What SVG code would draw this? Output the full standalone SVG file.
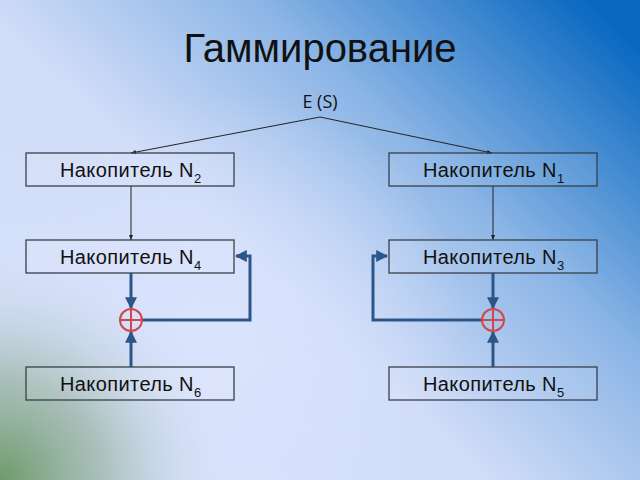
<svg xmlns="http://www.w3.org/2000/svg" width="640" height="480" viewBox="0 0 640 480">
<defs>
<linearGradient id="bg" x1="0" y1="0.9" x2="1" y2="0.1">
<stop offset="0" stop-color="#d8e2fb"/>
<stop offset="0.42" stop-color="#d0dcf8"/>
<stop offset="0.68" stop-color="#8db6e6"/>
<stop offset="1" stop-color="#0868c0"/>
</linearGradient>
<radialGradient id="green" cx="0" cy="480" r="230" gradientUnits="userSpaceOnUse">
<stop offset="0" stop-color="#6f9a6a"/>
<stop offset="0.45" stop-color="#9fb8ac" stop-opacity="0.8"/>
<stop offset="1" stop-color="#d6e0fa" stop-opacity="0"/>
</radialGradient>
<radialGradient id="light" cx="220" cy="340" r="250" gradientUnits="userSpaceOnUse">
<stop offset="0" stop-color="#dbe4fd" stop-opacity="0.9"/>
<stop offset="1" stop-color="#dbe4fd" stop-opacity="0"/>
</radialGradient>
<marker id="thin" viewBox="0 0 10 10" refX="10" refY="5" markerWidth="5" markerHeight="5" orient="auto">
<path d="M0,1 L10,5 L0,9 z" fill="#222"/>
</marker>
<marker id="thick" viewBox="0 0 10 10" refX="9" refY="5" markerWidth="4" markerHeight="4" orient="auto">
<path d="M0,0 L10,5 L0,10 z" fill="#2c5687"/>
</marker>
<style>
.box{fill:#ffffff;fill-opacity:0.08;stroke:#3a3f48;stroke-width:1.3}
.lbl{font-family:"Liberation Sans",Arial,sans-serif;font-size:20px;letter-spacing:0.4px;fill:#111}
.sub{font-size:13px;letter-spacing:0}
.thin{stroke:#222;stroke-width:1;fill:none}
.thk{stroke:#2c5687;stroke-width:3;fill:none}
.xor{stroke:#d04848;stroke-width:2;fill:none}
</style>
</defs>
<rect width="640" height="480" fill="url(#bg)"/>
<rect width="640" height="480" fill="url(#light)"/>
<rect width="640" height="480" fill="url(#green)"/>
<text x="320" y="62" text-anchor="middle" font-family="Liberation Sans,Arial,sans-serif" font-size="40" fill="#111">Гаммирование</text>
<text x="320" y="108" text-anchor="middle" font-family="Open Sans,sans-serif" font-size="18" fill="#111">E (S)</text>
<g id="connectors">
<path class="thin" d="M320,117 L131,153" marker-end="url(#thin)"/>
<path class="thin" d="M320,117 L492,153" marker-end="url(#thin)"/>
<path class="thin" d="M131,186 L131,240" marker-end="url(#thin)"/>
<path class="thin" d="M493,186 L493,240" marker-end="url(#thin)"/>
<path class="thk" d="M131,273 L131,308" marker-end="url(#thick)"/>
<path class="thk" d="M131,367 L131,332" marker-end="url(#thick)"/>
<path class="thk" d="M142,320 L250,320 L250,256 L236,256" marker-end="url(#thick)"/>
<path class="thk" d="M493,273 L493,308" marker-end="url(#thick)"/>
<path class="thk" d="M493,367 L493,332" marker-end="url(#thick)"/>
<path class="thk" d="M482,320 L373,320 L373,256 L387,256" marker-end="url(#thick)"/>
</g>
<g id="xor1"><circle class="xor" cx="131" cy="320" r="11"/><path class="xor" d="M120,320 H142 M131,309 V331"/></g>
<g id="xor2"><circle class="xor" cx="493" cy="320" r="11"/><path class="xor" d="M482,320 H504 M493,309 V331"/></g>
<g id="n2"><rect class="box" x="26" y="153" width="208" height="33"/><text class="lbl" x="60" y="177">Накопитель N<tspan class="sub" dy="6">2</tspan></text></g>
<g id="n1"><rect class="box" x="389" y="153" width="208" height="33"/><text class="lbl" x="423" y="177">Накопитель N<tspan class="sub" dy="6">1</tspan></text></g>
<g id="n4"><rect class="box" x="26" y="240" width="208" height="33"/><text class="lbl" x="60" y="264">Накопитель N<tspan class="sub" dy="6">4</tspan></text></g>
<g id="n3"><rect class="box" x="389" y="240" width="208" height="33"/><text class="lbl" x="423" y="264">Накопитель N<tspan class="sub" dy="6">3</tspan></text></g>
<g id="n6"><rect class="box" x="26" y="367" width="208" height="33"/><text class="lbl" x="60" y="391">Накопитель N<tspan class="sub" dy="6">6</tspan></text></g>
<g id="n5"><rect class="box" x="389" y="367" width="208" height="33"/><text class="lbl" x="423" y="391">Накопитель N<tspan class="sub" dy="6">5</tspan></text></g>
</svg>
